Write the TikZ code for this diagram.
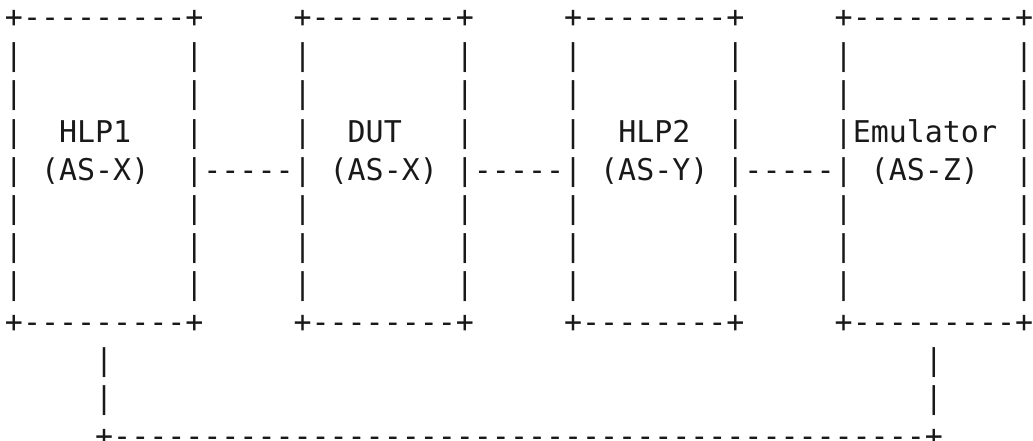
\documentclass[tikz,border=0pt]{standalone}
\usepackage{fontspec}
\setmonofont{DejaVu Sans Mono}
\begin{document}
\begin{tikzpicture}[x=1pt,y=-1pt,
  asciirow/.style={anchor=base west, inner sep=0pt, outer sep=0pt,
    font=\ttfamily\fontsize{29.96}{36}\selectfont, text=black!90}]
\useasboundingbox (0,0) rectangle (1033,440);
\def\rowy#1{27.9+38.04*#1}
\node[asciirow] (r0)  at (5,{\rowy{0}})  {+---------+~~~~~+--------+~~~~~+--------+~~~~~+---------+};
\node[asciirow] (r1)  at (5,{\rowy{1}})  {|~~~~~~~~~|~~~~~|~~~~~~~~|~~~~~|~~~~~~~~|~~~~~|~~~~~~~~~|};
\node[asciirow] (r2)  at (5,{\rowy{2}})  {|~~~~~~~~~|~~~~~|~~~~~~~~|~~~~~|~~~~~~~~|~~~~~|~~~~~~~~~|};
\node[asciirow] (r3)  at (5,{\rowy{3}})  {|~~HLP1~~~|~~~~~|~~DUT~~~|~~~~~|~~HLP2~~|~~~~~|Emulator~|};
\node[asciirow] (r4)  at (5,{\rowy{4}})  {|~(AS-X)~~|-----|~(AS-X)~|-----|~(AS-Y)~|-----|~(AS-Z)~~|};
\node[asciirow] (r5)  at (5,{\rowy{5}})  {|~~~~~~~~~|~~~~~|~~~~~~~~|~~~~~|~~~~~~~~|~~~~~|~~~~~~~~~|};
\node[asciirow] (r6)  at (5,{\rowy{6}})  {|~~~~~~~~~|~~~~~|~~~~~~~~|~~~~~|~~~~~~~~|~~~~~|~~~~~~~~~|};
\node[asciirow] (r7)  at (5,{\rowy{7}})  {|~~~~~~~~~|~~~~~|~~~~~~~~|~~~~~|~~~~~~~~|~~~~~|~~~~~~~~~|};
\node[asciirow] (r8)  at (5,{\rowy{8}})  {+---------+~~~~~+--------+~~~~~+--------+~~~~~+---------+};
\node[asciirow] (r9)  at (5,{\rowy{9}})  {~~~~~|~~~~~~~~~~~~~~~~~~~~~~~~~~~~~~~~~~~~~~~~~~~~~|};
\node[asciirow] (r10) at (5,{\rowy{10}}) {~~~~~|~~~~~~~~~~~~~~~~~~~~~~~~~~~~~~~~~~~~~~~~~~~~~|};
\node[asciirow] (r11) at (5,{\rowy{11}}) {~~~~~+---------------------------------------------+};
\end{tikzpicture}
\end{document}
